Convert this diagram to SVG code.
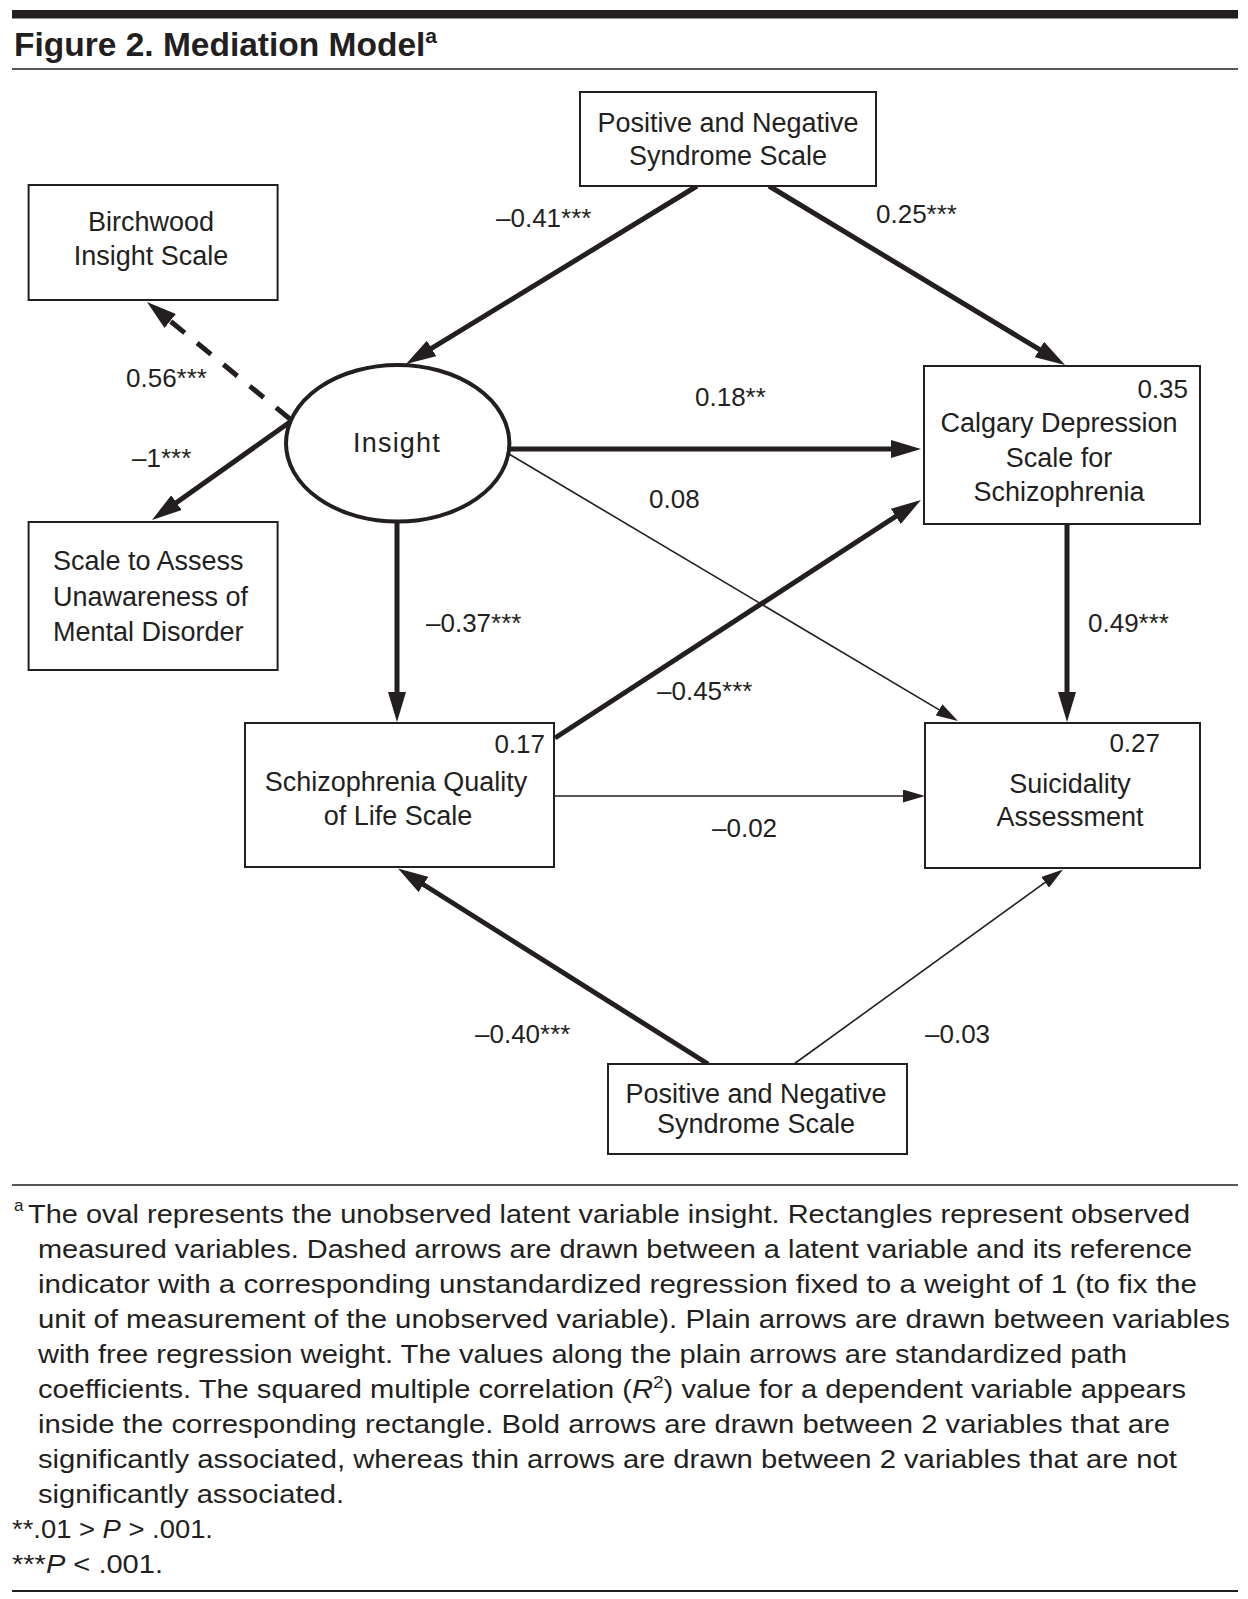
<svg xmlns="http://www.w3.org/2000/svg" width="1248" height="1599" viewBox="0 0 1248 1599">
<style>
text { font-family: "Liberation Sans", Arial, sans-serif; fill: #231f20; }
.node { font-size: 27px; text-anchor: middle; }
.lbl { font-size: 26px; }
.r2 { font-size: 26px; text-anchor: end; }
.fn { font-size: 26px; }
.box { fill: #fff; stroke: #231f20; stroke-width: 2; }
.bold { stroke: #231f20; stroke-width: 5; fill: none; marker-end: url(#hb); }
.thin { stroke: #231f20; stroke-width: 1.6; fill: none; marker-end: url(#ht); }
.dash { stroke: #231f20; stroke-width: 5; fill: none; stroke-dasharray: 18 16; marker-end: url(#hb); }
.rule { stroke: #231f20; stroke-width: 1.6; }
</style>
<defs>
<marker id="hb" markerUnits="userSpaceOnUse" viewBox="0 0 30 18" markerWidth="30" markerHeight="18" refX="15" refY="9" orient="auto">
<path d="M0,0 L30,9 L0,18 z" fill="#231f20"/>
</marker>
<marker id="ht" markerUnits="userSpaceOnUse" viewBox="0 0 22 13" markerWidth="22" markerHeight="13" refX="11" refY="6.5" orient="auto">
<path d="M0,0 L22,6.5 L0,13 z" fill="#231f20"/>
</marker>
</defs>
<rect width="1248" height="1599" fill="#fff"/>
<g id="header">
<rect x="12" y="10" width="1226" height="8.5" fill="#231f20"/>
<text x="14" y="56" style="font-size:33.5px;font-weight:bold">Figure 2. Mediation Model<tspan dy="-13" style="font-size:21px">a</tspan></text>
<line class="rule" x1="12" y1="69" x2="1238" y2="69"/>
</g>
<g id="connectors">
<line class="bold" x1="697" y1="186" x2="418.8" y2="356.2"/>
<line class="bold" x1="769" y1="186" x2="1052.2" y2="357.2"/>
<line class="dash" x1="290" y1="419" x2="158.6" y2="311.5"/>
<line class="bold" x1="290" y1="422" x2="164.2" y2="511.3"/>
<line class="bold" x1="509" y1="449" x2="906" y2="449"/>
<line class="thin" x1="509" y1="454" x2="948.5" y2="715.4"/>
<line class="bold" x1="397" y1="522" x2="397" y2="707"/>
<line class="bold" x1="555" y1="738" x2="908.4" y2="508.2"/>
<line class="thin" x1="555" y1="796" x2="914" y2="796"/>
<line class="bold" x1="1067" y1="524" x2="1067" y2="707"/>
<line class="bold" x1="708" y1="1064" x2="410.7" y2="876.5"/>
<line class="thin" x1="794" y1="1064" x2="1054.1" y2="875.9"/>
</g>
<g id="edge-labels">
<text class="lbl" x="496" y="227">–0.41***</text>
<text class="lbl" x="876" y="223">0.25***</text>
<text class="lbl" x="126" y="387">0.56***</text>
<text class="lbl" x="132" y="467">–1***</text>
<text class="lbl" x="695" y="406">0.18**</text>
<text class="lbl" x="649" y="508">0.08</text>
<text class="lbl" x="426" y="632">–0.37***</text>
<text class="lbl" x="1088" y="632">0.49***</text>
<text class="lbl" x="657" y="700">–0.45***</text>
<text class="lbl" x="712" y="837">–0.02</text>
<text class="lbl" x="475" y="1043">–0.40***</text>
<text class="lbl" x="925" y="1043">–0.03</text>
</g>
<g id="panss-top">
<rect class="box" x="580" y="92" width="296" height="94"/>
<text class="node" x="728" y="132">Positive and Negative</text>
<text class="node" x="728" y="165">Syndrome Scale</text>
</g>
<g id="birchwood">
<rect class="box" x="28.6" y="185" width="249" height="115"/>
<text class="node" x="151" y="231">Birchwood</text>
<text class="node" x="151" y="265">Insight Scale</text>
</g>
<g id="insight">
<ellipse cx="397.7" cy="443.3" rx="111.7" ry="78.3" fill="#fff" stroke="#231f20" stroke-width="4"/>
<text class="node" x="397" y="452" style="letter-spacing:1.2px">Insight</text>
</g>
<g id="saumd">
<rect class="box" x="28.6" y="522" width="249" height="148"/>
<text class="node" x="53" y="570" style="text-anchor:start">Scale to Assess</text>
<text class="node" x="53" y="606" style="text-anchor:start">Unawareness of</text>
<text class="node" x="53" y="641" style="text-anchor:start">Mental Disorder</text>
</g>
<g id="calgary">
<rect class="box" x="924" y="366" width="276" height="158"/>
<text class="r2" x="1188" y="398">0.35</text>
<text class="node" x="1059" y="432">Calgary Depression</text>
<text class="node" x="1059" y="467">Scale for</text>
<text class="node" x="1059" y="501">Schizophrenia</text>
</g>
<g id="sqls">
<rect class="box" x="245" y="723" width="309" height="144"/>
<text class="r2" x="545" y="753">0.17</text>
<text class="node" x="396" y="791">Schizophrenia Quality</text>
<text class="node" x="398" y="825">of Life Scale</text>
</g>
<g id="suicidality">
<rect class="box" x="925" y="723" width="275" height="145"/>
<text class="r2" x="1160" y="752">0.27</text>
<text class="node" x="1070" y="793">Suicidality</text>
<text class="node" x="1070" y="826">Assessment</text>
</g>
<g id="panss-bottom">
<rect class="box" x="608" y="1064" width="299" height="90"/>
<text class="node" x="756" y="1103">Positive and Negative</text>
<text class="node" x="756" y="1133">Syndrome Scale</text>
</g>
<g id="footnote">
<line class="rule" x1="12" y1="1185" x2="1238" y2="1185"/>
<text x="14" y="1211" style="font-size:17px">a</text>
<text class="fn" x="28" y="1223" textLength="1162" lengthAdjust="spacingAndGlyphs">The oval represents the unobserved latent variable insight. Rectangles represent observed</text>
<text class="fn" x="38" y="1258" textLength="1154" lengthAdjust="spacingAndGlyphs">measured variables. Dashed arrows are drawn between a latent variable and its reference</text>
<text class="fn" x="38" y="1293" textLength="1159" lengthAdjust="spacingAndGlyphs">indicator with a corresponding unstandardized regression fixed to a weight of 1 (to fix the</text>
<text class="fn" x="38" y="1328" textLength="1192" lengthAdjust="spacingAndGlyphs">unit of measurement of the unobserved variable). Plain arrows are drawn between variables</text>
<text class="fn" x="38" y="1363" textLength="1089" lengthAdjust="spacingAndGlyphs">with free regression weight. The values along the plain arrows are standardized path</text>
<text class="fn" x="38" y="1398" textLength="1148" lengthAdjust="spacingAndGlyphs">coefficients. The squared multiple correlation (<tspan font-style="italic">R</tspan><tspan dy="-10" style="font-size:17px">2</tspan><tspan dy="10">) value for a dependent variable appears</tspan></text>
<text class="fn" x="38" y="1433" textLength="1132" lengthAdjust="spacingAndGlyphs">inside the corresponding rectangle. Bold arrows are drawn between 2 variables that are</text>
<text class="fn" x="38" y="1468" textLength="1139" lengthAdjust="spacingAndGlyphs">significantly associated, whereas thin arrows are drawn between 2 variables that are not</text>
<text class="fn" x="38" y="1503" textLength="306" lengthAdjust="spacingAndGlyphs">significantly associated.</text>
<text class="fn" x="12" y="1538" textLength="201" lengthAdjust="spacingAndGlyphs">**.01 &gt; <tspan font-style="italic">P</tspan> &gt; .001.</text>
<text class="fn" x="12" y="1573" textLength="151" lengthAdjust="spacingAndGlyphs">***<tspan font-style="italic">P</tspan> &lt; .001.</text>
<line x1="12" y1="1591" x2="1238" y2="1591" stroke="#231f20" stroke-width="2"/>
</g>
</svg>
